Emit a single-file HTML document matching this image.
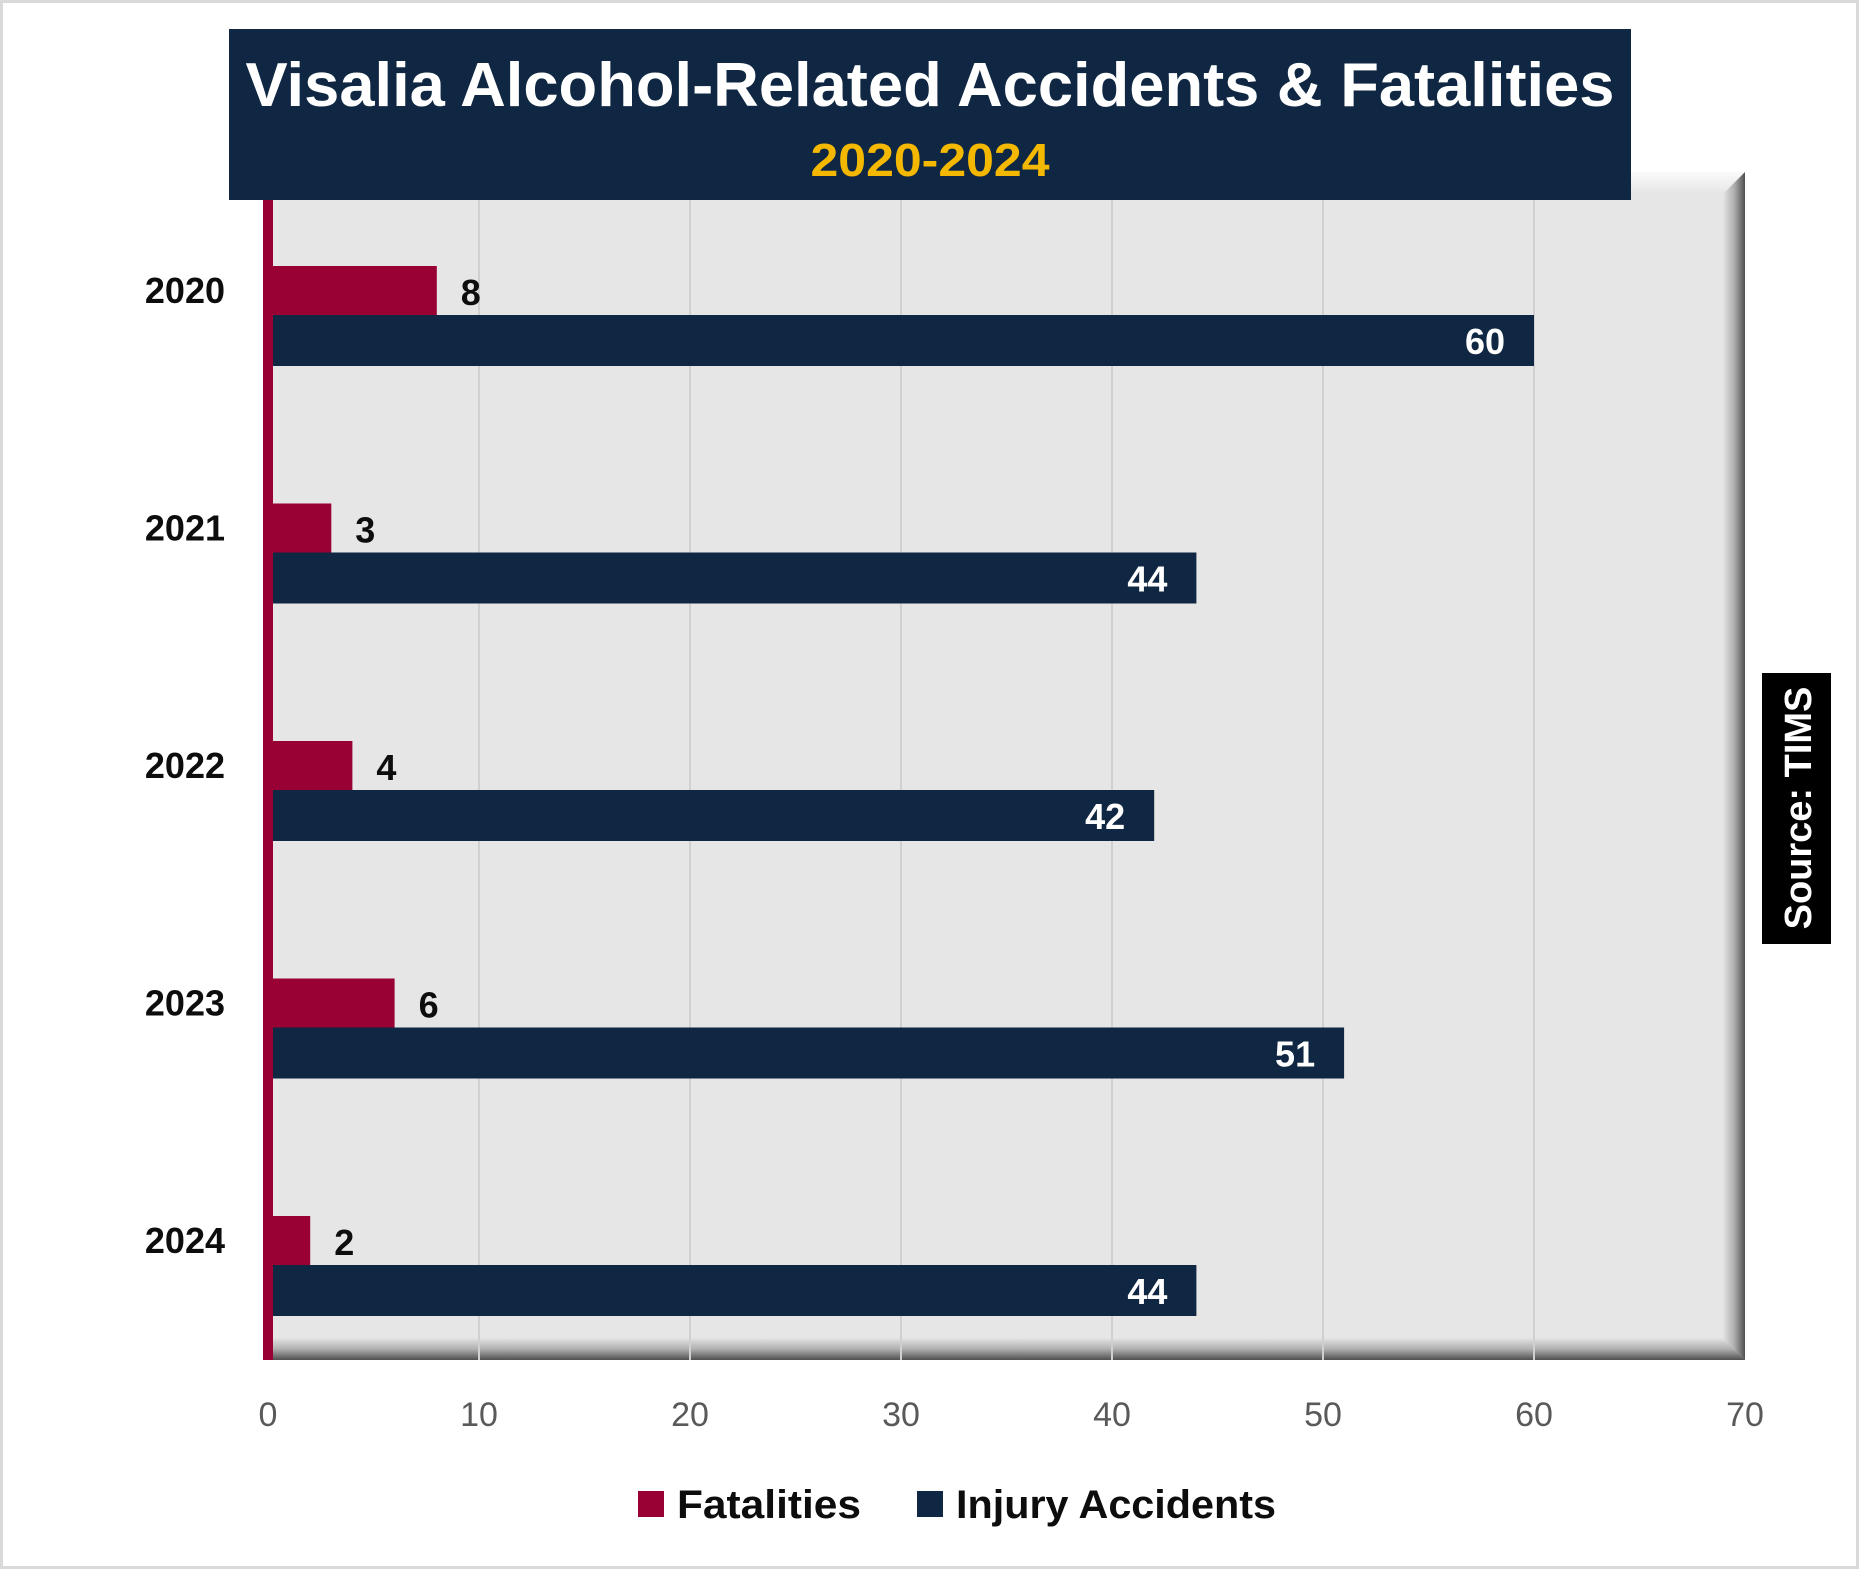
<!DOCTYPE html>
<html><head><meta charset="utf-8"><style>
body{margin:0;background:#fff;}
svg text{font-family:"Liberation Sans",sans-serif;}
</style></head><body>
<svg width="1859" height="1569" viewBox="0 0 1859 1569" xmlns="http://www.w3.org/2000/svg">
<defs>
<linearGradient id="gr" x1="0" x2="1" y1="0" y2="0"><stop offset="0" stop-color="#e4e4e4"/><stop offset="0.5" stop-color="#b0b0b0"/><stop offset="1" stop-color="#505050"/></linearGradient>
<linearGradient id="gb" x1="0" x2="0" y1="0" y2="1"><stop offset="0" stop-color="#e4e4e4"/><stop offset="0.5" stop-color="#b0b0b0"/><stop offset="1" stop-color="#505050"/></linearGradient>
<linearGradient id="gt" x1="0" x2="0" y1="0" y2="1"><stop offset="0" stop-color="#fafafa"/><stop offset="1" stop-color="#e6e6e6"/></linearGradient>
</defs>
<rect x="1.5" y="1.5" width="1856" height="1566" fill="#fff" stroke="#d9d9d9" stroke-width="3"/>
<g id="plot">
<rect x="268" y="172" width="1477" height="1188" fill="#e6e6e6"/>
<rect x="268" y="172" width="1477" height="22" fill="url(#gt)"/>
<polygon points="1745,172 1745,1360 1723,1338 1723,194" fill="url(#gr)"/>
<polygon points="268,1360 1745,1360 1723,1338 268,1338" fill="url(#gb)"/>
</g>
<g id="grid"></g>
<g id="bars"></g>
<rect x="263" y="200" width="10" height="1160" fill="#990033"/>
<g id="labels"></g>
<g id="ticks"></g>
<rect x="229" y="29" width="1402" height="171" fill="#0f2742"/>
<text x="930" y="106" text-anchor="middle" font-size="62" font-weight="bold" fill="#fff" textLength="1369" lengthAdjust="spacingAndGlyphs">Visalia Alcohol-Related Accidents &amp; Fatalities</text>
<text x="930" y="176" text-anchor="middle" font-size="46" font-weight="bold" fill="#f5b800" textLength="239" lengthAdjust="spacingAndGlyphs">2020-2024</text>
<rect x="1762" y="673" width="69" height="271" fill="#000"/>
<text transform="translate(1811,808) rotate(-90)" text-anchor="middle" font-size="38" font-weight="bold" fill="#fff">Source: TIMS</text>
<g>
<rect x="638" y="1491" width="26" height="26" fill="#990033"/>
<text x="677" y="1518" font-size="40" font-weight="bold" fill="#0d0d0d" textLength="184" lengthAdjust="spacingAndGlyphs">Fatalities</text>
<rect x="917" y="1491" width="26" height="26" fill="#0f2742"/>
<text x="956" y="1518" font-size="40" font-weight="bold" fill="#0d0d0d" textLength="320" lengthAdjust="spacingAndGlyphs">Injury Accidents</text>
</g>
</svg>
<script>
const categories = ["2020","2021","2022","2023","2024"];
const fatalities = [8,3,4,6,2];
const injuries = [60,44,42,51,44];
const ticks = [0,10,20,30,40,50,60,70];
const NS="http://www.w3.org/2000/svg";
const x0=268, pxPer=21.1;
const xs=v=>x0+v*pxPer;
const yc=i=>315+i*237.5;
function mk(tag,attrs,parent,txt){const e=document.createElementNS(NS,tag);for(const k in attrs)e.setAttribute(k,attrs[k]);if(txt!==undefined)e.textContent=txt;document.getElementById(parent).appendChild(e);return e;}
ticks.forEach(t=>{
  if(t>0&&t<70){const g=mk('line',{x1:xs(t),x2:xs(t),y1:194,y2:1360,stroke:'#d0d0d0','stroke-width':2},'grid');
  
  }
  const l=mk('text',{x:xs(t),y:1426,'text-anchor':'middle','font-size':34,fill:'#595959'},'ticks',String(t));
  
  
});
categories.forEach((c,i)=>{
  const y=yc(i);
  const r=mk('rect',{x:x0,y:y-49,width:xs(fatalities[i])-x0,height:49,fill:'#990033'},'bars');
  
  
  const b=mk('rect',{x:x0+5,y:y,width:xs(injuries[i])-x0-5,height:51,fill:'#0f2742'},'bars');
  
  
  const yl=mk('text',{x:225,y:y-12,'text-anchor':'end','font-size':36,'font-weight':'bold',fill:'#0d0d0d'},'labels',c);
  
  
  const fl=mk('text',{x:xs(fatalities[i])+24,y:y-10,'font-size':36,'font-weight':'bold',fill:'#0d0d0d'},'labels',String(fatalities[i]));
  
  
  const il=mk('text',{x:xs(injuries[i])-29,y:y+39,'text-anchor':'end','font-size':36,'font-weight':'bold',fill:'#fff'},'labels',String(injuries[i]));
  
  
});
</script>
</body></html>
